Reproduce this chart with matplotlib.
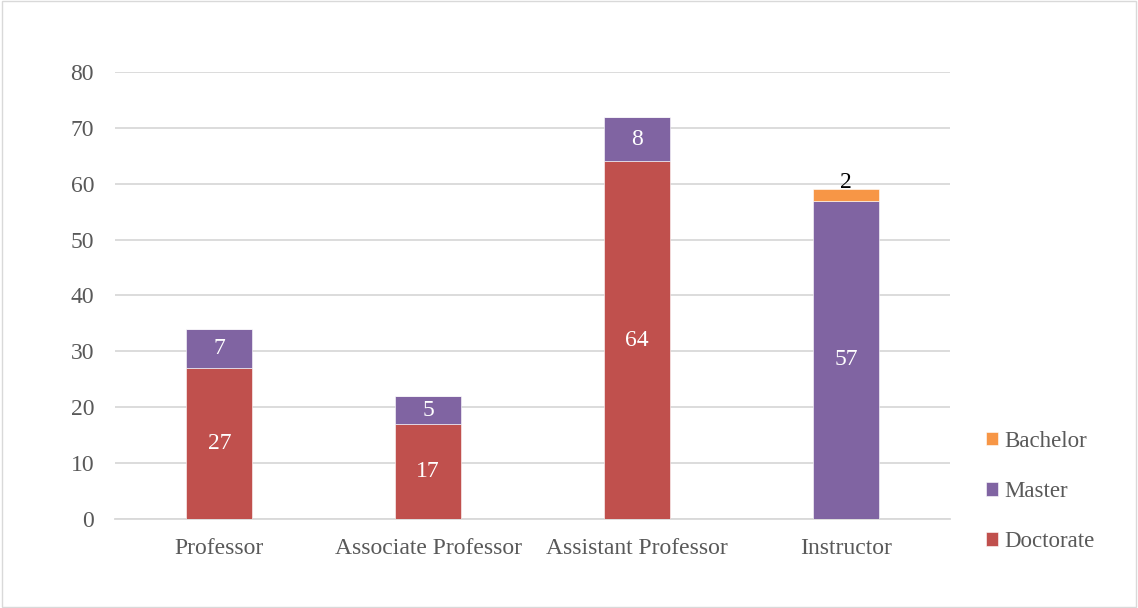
import matplotlib.pyplot as plt
import numpy as np

categories = ['Professor', 'Associate Professor', 'Assistant Professor', 'Instructor']
doctorate = [27, 17, 64, 0]
master = [7, 5, 8, 57]
bachelor = [0, 0, 0, 2]

plt.rcParams['font.family'] = ['Liberation Serif', 'DejaVu Serif']

fig = plt.figure(figsize=(11.38, 6.08), dpi=100)
ax = fig.add_axes([0.101, 0.1464, 0.734, 0.7352])
fig.patches.append(plt.Rectangle((0.002, 0.002), 0.996, 0.996, transform=fig.transFigure,
                                 fill=False, edgecolor='#D9D9D9', lw=1))

x = np.arange(len(categories))
w = 0.316
d = np.array(doctorate)
m = np.array(master)
b = np.array(bachelor)
ax.bar(x, d, w, color='#C0504D', label='Doctorate', zorder=3, edgecolor='white', linewidth=0.4)
ax.bar(x, m, w, bottom=d, color='#8064A2', label='Master', zorder=3, edgecolor='white', linewidth=0.4)
ax.bar(x, b, w, bottom=d + m, color='#F79646', label='Bachelor', zorder=3, edgecolor='white', linewidth=0.4)

fs = 17
for i in range(len(categories)):
    if d[i]:
        ax.text(x[i], d[i] / 2, str(d[i]), ha='center', va='center', color='white', fontsize=fs, zorder=4)
    if m[i]:
        ax.text(x[i], d[i] + m[i] / 2, str(m[i]), ha='center', va='center', color='white', fontsize=fs, zorder=4)
    if b[i]:
        ax.text(x[i], d[i] + m[i] + b[i] + 1.3, str(b[i]), ha='center', va='center', color='black', fontsize=fs, zorder=4)

ax.set_xlim(-0.5, 3.5)
ax.set_ylim(0, 80)
ax.set_yticks(range(0, 81, 10))
ax.set_xticks(x)
ax.set_xticklabels(categories)
ax.grid(axis='y', color='#D9D9D9', lw=1.3, zorder=0)
for s in ['top', 'right', 'left']:
    ax.spines[s].set_visible(False)
ax.spines['bottom'].set_color('#D9D9D9')
ax.spines['bottom'].set_linewidth(1.3)
ax.tick_params(length=0, labelsize=fs, colors='#595959')
ax.tick_params(axis='y', pad=15)
ax.tick_params(axis='x', pad=14)

h, l = ax.get_legend_handles_labels()
ax.legend(h[::-1], l[::-1], loc='center left', bbox_to_anchor=(1.018, 0.062), frameon=False,
          fontsize=16.5, labelcolor='#595959', handlelength=0.55, handleheight=0.55,
          handletextpad=0.25, labelspacing=1.27)

fig.savefig('out.png', dpi=100)
